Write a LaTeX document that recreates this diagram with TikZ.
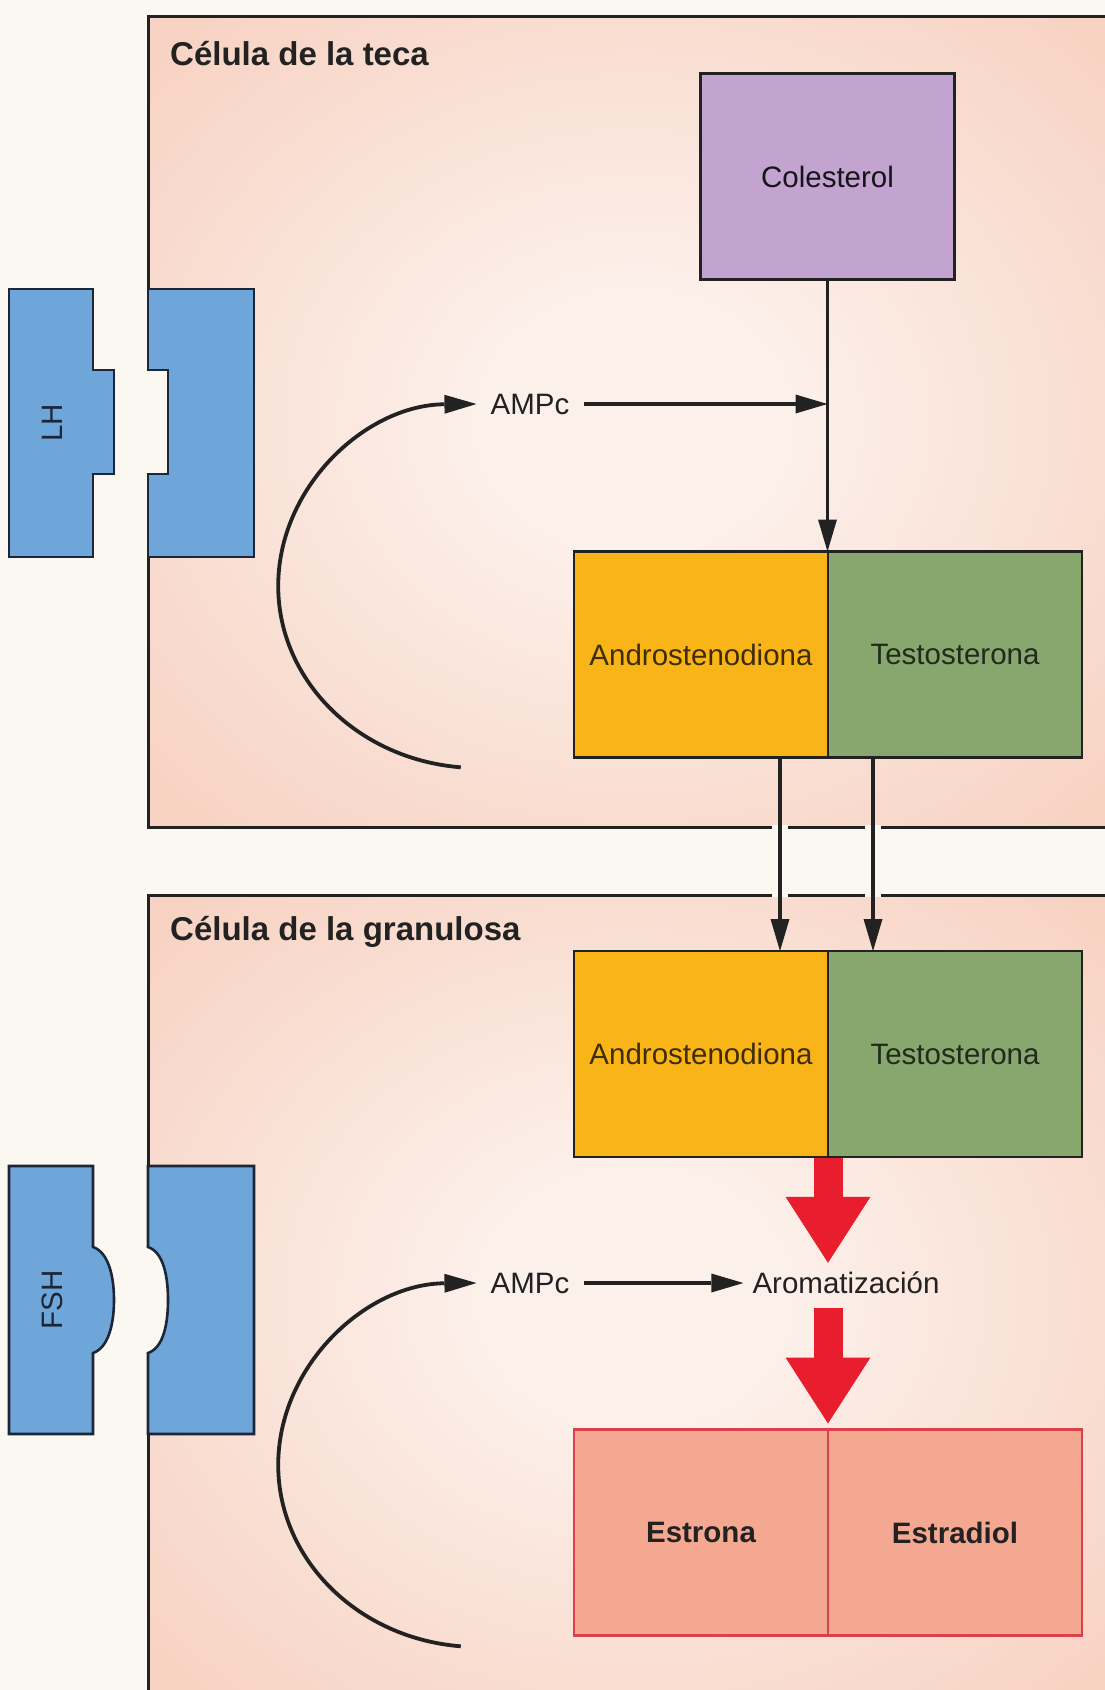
\documentclass[tikz,border=0pt]{standalone}
\usepackage{fontspec}
\setmainfont{Liberation Sans}
\usetikzlibrary{arrows.meta,positioning}

\definecolor{bgcream}{HTML}{FBF8F2}
\definecolor{cellin}{HTML}{FCF0EA}
\definecolor{cellout}{HTML}{F5C4B0}
\definecolor{recblue}{HTML}{6FA6D9}
\definecolor{recline}{HTML}{1D2638}
\definecolor{cholfill}{HTML}{C3A4D0}
\definecolor{androfill}{HTML}{F9B518}
\definecolor{testofill}{HTML}{87A76F}
\definecolor{estrofill}{HTML}{F5A891}
\definecolor{estroline}{HTML}{D9424C}
\definecolor{redarrow}{HTML}{E81D2E}
\definecolor{inkdark}{HTML}{222222}

\pgfdeclareradialshading{cellglow}{\pgfpoint{0bp}{0bp}}{color(0bp)=(cellin); color(8bp)=(cellin); color(46bp)=(cellout); color(50bp)=(cellout)}

\begin{document}
\begin{tikzpicture}[
  x=1pt, y=-1pt,
  every node/.style={font=\fontsize{29.5}{35}\selectfont, text=inkdark},
  title/.style={font=\fontsize{33}{39}\selectfont\bfseries, anchor=west, inner sep=0pt},
  cellline/.style={draw=inkdark, line width=3pt},
  hormbox/.style={rectangle, draw=inkdark, line width=2.6pt, outer sep=0pt,
                  minimum width=254pt, minimum height=206pt, inner sep=0pt},
  estrobox/.style={hormbox, draw=estroline, fill=estrofill,
                   font=\fontsize{29.5}{35}\selectfont\bfseries},
  recpiece/.style={draw=recline, line width=2.6pt, fill=recblue},
  arr/.style={draw=inkdark, line width=3.6pt,
              -{Triangle[length=32pt,width=19pt,line width=0pt]}},
  camparc/.style={draw=inkdark, line width=3.8pt,
                  {Triangle[length=32pt,width=19pt,line width=0pt]}-},
  redarr/.style={draw=redarrow, line width=29pt,
                 -{Triangle[length=66pt,width=85pt,line width=0pt]}}
]
\useasboundingbox (0,0) rectangle (1105,1690);
\fill[bgcream] (0,0) rectangle (1105,1690);

% theca cell
\shade[shading=cellglow] (148,16) rectangle (1120,827);
\draw[cellline] (1120,16) -- (148,16) -- (148,827) -- (1120,827);
% granulosa cell
\shade[shading=cellglow] (148,895) rectangle (1120,1700);
\draw[cellline] (1120,895) -- (148,895) -- (148,1700);

\node[title] (thecatitle) at (170,54) {Célula de la teca};
\node[title] (granutitle) at (170,932) {Célula de la granulosa};

% LH and its receptor
\fill[bgcream] (146,370) rectangle (168,474);
\draw[recpiece] (9,289) -- (93,289) -- (93,370) -- (114,370) -- (114,474)
  -- (93,474) -- (93,557) -- (9,557) -- cycle;
\draw[recpiece] (148,289) -- (254,289) -- (254,557) -- (148,557) -- (148,474)
  -- (168,474) -- (168,370) -- (148,370) -- cycle;
\node[rotate=90, text=recline] (lhlabel) at (52,423) {LH};

% FSH and its receptor
\fill[bgcream] (146,1247) -- (148,1247) .. controls (163,1252) and (168,1275) .. (168,1300)
  .. controls (168,1325) and (163,1348) .. (148,1353) -- (146,1353) -- cycle;
\draw[recpiece] (9,1166) -- (93,1166) -- (93,1247)
  .. controls (108,1252) and (114,1275) .. (114,1300)
  .. controls (114,1325) and (108,1348) .. (93,1353) -- (93,1434) -- (9,1434) -- cycle;
\draw[recpiece] (148,1166) -- (254,1166) -- (254,1434) -- (148,1434) -- (148,1353)
  .. controls (163,1348) and (168,1325) .. (168,1300)
  .. controls (168,1275) and (163,1252) .. (148,1247) -- cycle;
\node[rotate=90, text=recline] (fshlabel) at (52,1300) {FSH};

% steroid boxes
\node[hormbox, fill=cholfill, text=black!70!cholfill!40!black] (chol) at (827.5,176.5) {Colesterol};
\node[hormbox, fill=androfill, text=black!75!androfill] (andT) at (701,654.5) {Androstenodiona};
\node[hormbox, fill=testofill, text=black!75!testofill, right=0pt of andT] (tesT) {Testosterona};
\node[hormbox, fill=androfill, text=black!75!androfill] (andG) at (701,1054) {Androstenodiona};
\node[hormbox, fill=testofill, text=black!75!testofill, right=0pt of andG] (tesG) {Testosterona};
\node[estrobox] (estrona) at (701,1532.5) {Estrona};
\node[estrobox, right=0pt of estrona] (estradiol) {Estradiol};

\node[inner xsep=14pt] (ampT) at (530,404) {AMPc};
\node[inner xsep=14pt] (ampG) at (530,1283) {AMPc};
\node[text height=21pt, text depth=5pt, inner xsep=9pt, inner ysep=9.5pt] (arom) at (846,1285.5) {Aromatización};

% theca arrows
\draw[camparc] (ampT.west) arc[start angle=269.5, end angle=95, x radius=200, y radius=182];
\draw[arr] (chol.south) -- (chol.south |- andT.north);
\draw[arr] (ampT.east) -- (ampT.east -| chol.south);

% passage to the granulosa cell
\foreach \gx in {780,873}
  \foreach \gy in {827,895}
    \fill[bgcream] (\gx-8,\gy-2.2) rectangle (\gx+8,\gy+2.2);
\draw[arr] (780,0 |- andT.south) -- (780,0 |- andG.north);
\draw[arr] (873,0 |- tesT.south) -- (873,0 |- tesG.north);

% granulosa arrows
\draw[camparc] (ampG.west) arc[start angle=269.5, end angle=95, x radius=200, y radius=182];
\draw[arr] (ampG.east) -- (ampG.east -| arom.west);
\draw[redarr, shorten <=1.3pt] (andG.south east) -- (andG.south east |- arom.north);
\draw[redarr, shorten >=6pt] (andG.south east |- arom.south) -- (estrona.north east);
\end{tikzpicture}
\end{document}
